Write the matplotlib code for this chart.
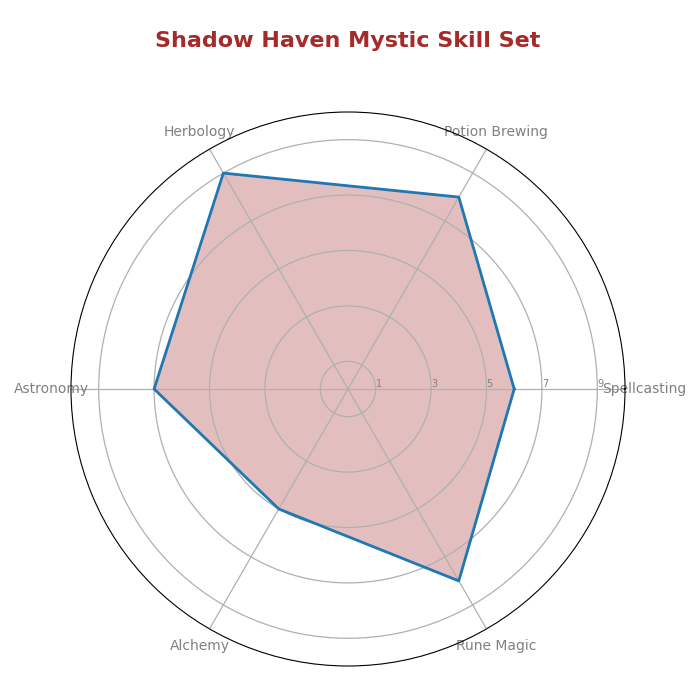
import numpy as np
import matplotlib.pyplot as plt

# Skill ratings for the mystic
skills = ['Spellcasting', 'Potion Brewing', 'Herbology',
          'Astronomy', 'Alchemy', 'Rune Magic']
ratings = [6, 8, 9, 7, 5, 8]
r_ticks = [1, 3, 5, 7, 9]


def plot_radar():
    n = len(skills)
    angles = np.linspace(0, 2 * np.pi, n, endpoint=False).tolist()
    values = ratings + ratings[:1]
    angles_closed = angles + angles[:1]

    fig = plt.figure(figsize=(7, 7), dpi=100)
    ax = fig.add_axes([71 / 700, 34 / 700, 554 / 700, 554 / 700], polar=True)

    ax.fill(angles_closed, values, color='#a52a2a', alpha=0.3)
    ax.plot(angles_closed, values, color='#1f77b4', linewidth=2)

    ax.set_ylim(0, 10)
    ax.set_xticks(angles)
    ax.set_xticklabels(skills, fontsize=10, color='grey')
    ax.set_yticks(r_ticks)
    ax.set_yticklabels([str(t) for t in r_ticks], fontsize=7, color='grey')
    ax.set_rlabel_position(0)
    ax.grid(True, color='#b0b0b0', linewidth=0.9)

    fig.text(0.497, 1 - 41 / 700, 'Shadow Haven Mystic Skill Set',
             ha='center', va='center', fontsize=16, fontweight='bold',
             color='#a52a2a')

    plt.savefig('out.png')
    plt.close()


if __name__ == "__main__":
    plot_radar()
